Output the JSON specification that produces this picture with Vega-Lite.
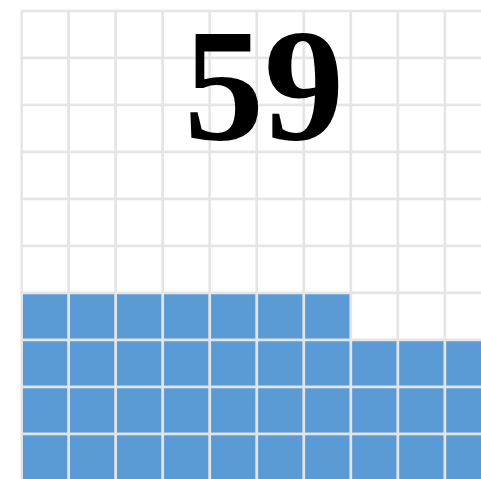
{
  "$schema": "https://vega.github.io/schema/vega-lite/v6.json",
  "width": 481,
  "height": 479,
  "autosize": {"type": "fit", "contains": "padding"},
  "padding": 0,
  "background": "white",
  "config": {"view": {"stroke": null}},
  "datasets": {
    "cells": [
      {"row":0,"col":0,"filled":"no"},{"row":0,"col":1,"filled":"no"},{"row":0,"col":2,"filled":"no"},{"row":0,"col":3,"filled":"no"},{"row":0,"col":4,"filled":"no"},{"row":0,"col":5,"filled":"no"},{"row":0,"col":6,"filled":"no"},{"row":0,"col":7,"filled":"no"},{"row":0,"col":8,"filled":"no"},{"row":0,"col":9,"filled":"no"},
      {"row":1,"col":0,"filled":"no"},{"row":1,"col":1,"filled":"no"},{"row":1,"col":2,"filled":"no"},{"row":1,"col":3,"filled":"no"},{"row":1,"col":4,"filled":"no"},{"row":1,"col":5,"filled":"no"},{"row":1,"col":6,"filled":"no"},{"row":1,"col":7,"filled":"no"},{"row":1,"col":8,"filled":"no"},{"row":1,"col":9,"filled":"no"},
      {"row":2,"col":0,"filled":"no"},{"row":2,"col":1,"filled":"no"},{"row":2,"col":2,"filled":"no"},{"row":2,"col":3,"filled":"no"},{"row":2,"col":4,"filled":"no"},{"row":2,"col":5,"filled":"no"},{"row":2,"col":6,"filled":"no"},{"row":2,"col":7,"filled":"no"},{"row":2,"col":8,"filled":"no"},{"row":2,"col":9,"filled":"no"},
      {"row":3,"col":0,"filled":"no"},{"row":3,"col":1,"filled":"no"},{"row":3,"col":2,"filled":"no"},{"row":3,"col":3,"filled":"no"},{"row":3,"col":4,"filled":"no"},{"row":3,"col":5,"filled":"no"},{"row":3,"col":6,"filled":"no"},{"row":3,"col":7,"filled":"no"},{"row":3,"col":8,"filled":"no"},{"row":3,"col":9,"filled":"no"},
      {"row":4,"col":0,"filled":"no"},{"row":4,"col":1,"filled":"no"},{"row":4,"col":2,"filled":"no"},{"row":4,"col":3,"filled":"no"},{"row":4,"col":4,"filled":"no"},{"row":4,"col":5,"filled":"no"},{"row":4,"col":6,"filled":"no"},{"row":4,"col":7,"filled":"no"},{"row":4,"col":8,"filled":"no"},{"row":4,"col":9,"filled":"no"},
      {"row":5,"col":0,"filled":"no"},{"row":5,"col":1,"filled":"no"},{"row":5,"col":2,"filled":"no"},{"row":5,"col":3,"filled":"no"},{"row":5,"col":4,"filled":"no"},{"row":5,"col":5,"filled":"no"},{"row":5,"col":6,"filled":"no"},{"row":5,"col":7,"filled":"no"},{"row":5,"col":8,"filled":"no"},{"row":5,"col":9,"filled":"no"},
      {"row":6,"col":0,"filled":"yes"},{"row":6,"col":1,"filled":"yes"},{"row":6,"col":2,"filled":"yes"},{"row":6,"col":3,"filled":"yes"},{"row":6,"col":4,"filled":"yes"},{"row":6,"col":5,"filled":"yes"},{"row":6,"col":6,"filled":"yes"},{"row":6,"col":7,"filled":"no"},{"row":6,"col":8,"filled":"no"},{"row":6,"col":9,"filled":"no"},
      {"row":7,"col":0,"filled":"yes"},{"row":7,"col":1,"filled":"yes"},{"row":7,"col":2,"filled":"yes"},{"row":7,"col":3,"filled":"yes"},{"row":7,"col":4,"filled":"yes"},{"row":7,"col":5,"filled":"yes"},{"row":7,"col":6,"filled":"yes"},{"row":7,"col":7,"filled":"yes"},{"row":7,"col":8,"filled":"yes"},{"row":7,"col":9,"filled":"yes"},
      {"row":8,"col":0,"filled":"yes"},{"row":8,"col":1,"filled":"yes"},{"row":8,"col":2,"filled":"yes"},{"row":8,"col":3,"filled":"yes"},{"row":8,"col":4,"filled":"yes"},{"row":8,"col":5,"filled":"yes"},{"row":8,"col":6,"filled":"yes"},{"row":8,"col":7,"filled":"yes"},{"row":8,"col":8,"filled":"yes"},{"row":8,"col":9,"filled":"yes"},
      {"row":9,"col":0,"filled":"yes"},{"row":9,"col":1,"filled":"yes"},{"row":9,"col":2,"filled":"yes"},{"row":9,"col":3,"filled":"yes"},{"row":9,"col":4,"filled":"yes"},{"row":9,"col":5,"filled":"yes"},{"row":9,"col":6,"filled":"yes"},{"row":9,"col":7,"filled":"yes"},{"row":9,"col":8,"filled":"yes"},{"row":9,"col":9,"filled":"yes"}
    ],
    "label": [{"value": "59", "col": 5, "row": 2}]
  },
  "layer": [
    {
      "data": {"name": "cells"},
      "mark": {"type": "rect", "stroke": "#e5e5e5", "strokeWidth": 2.5, "clip": true},
      "encoding": {
        "x": {"field": "col", "type": "ordinal", "axis": null,
              "scale": {"domain": [0,1,2,3,4,5,6,7,8,9], "range": [21.7, 492.0], "paddingInner": 0, "paddingOuter": 0}},
        "y": {"field": "row", "type": "ordinal", "axis": null,
              "scale": {"domain": [0,1,2,3,4,5,6,7,8,9], "range": [11, 481], "paddingInner": 0, "paddingOuter": 0}},
        "fill": {"field": "filled", "type": "nominal", "legend": null,
                 "scale": {"domain": ["no", "yes"], "range": ["#ffffff", "#5b9bd5"]}}
      }
    },
    {
      "data": {"name": "label"},
      "mark": {"type": "text", "font": "Liberation Serif", "fontWeight": "bold", "fontSize": 160, "align": "center", "baseline": "alphabetic", "color": "#000000"},
      "encoding": {
        "x": {"field": "col", "type": "ordinal", "bandPosition": 0.15},
        "y": {"field": "row", "type": "ordinal", "bandPosition": 0.72},
        "text": {"field": "value"}
      }
    }
  ]
}
